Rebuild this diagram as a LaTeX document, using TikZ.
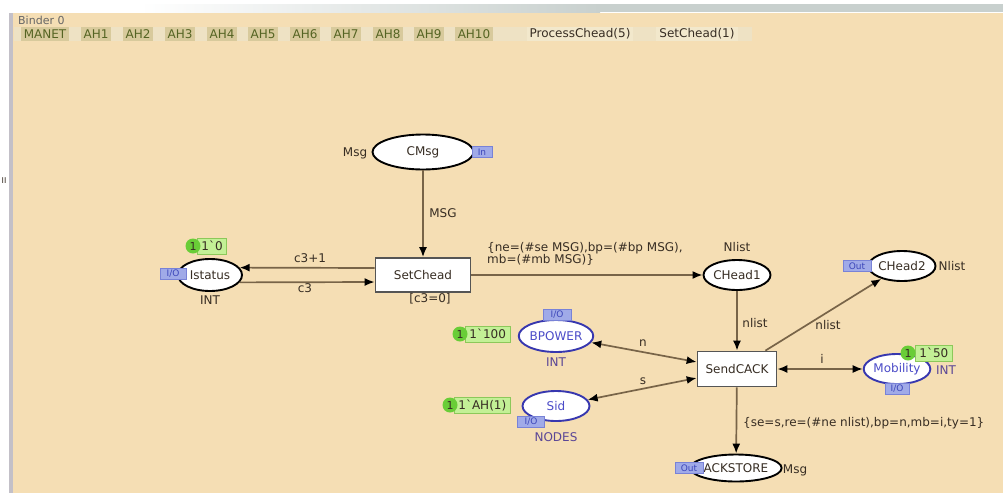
\documentclass[tikz,border=0pt]{standalone}
\usepackage{fontspec}
\setmainfont{DejaVu Sans}
\usetikzlibrary{shapes.geometric,arrows.meta}

\definecolor{canvas}{RGB}{245,222,180}
\definecolor{arccol}{RGB}{120,100,72}
\definecolor{txt}{RGB}{55,45,35}
\definecolor{blueplace}{RGB}{55,55,175}
\definecolor{bluetxt}{RGB}{75,75,200}
\definecolor{typetxt}{RGB}{90,70,150}
\definecolor{tagfill}{RGB}{160,170,232}
\definecolor{tagdraw}{RGB}{120,130,215}
\definecolor{tagtxt}{RGB}{60,70,185}
\definecolor{tokdotcol}{RGB}{105,205,55}
\definecolor{tokboxcol}{RGB}{195,240,150}
\definecolor{toklinecol}{RGB}{140,200,90}
\definecolor{tabbar}{RGB}{238,226,196}
\definecolor{tabfill}{RGB}{216,202,156}
\definecolor{tabtxt}{RGB}{85,100,35}
\definecolor{tabactive}{RGB}{242,232,204}
\definecolor{transline}{RGB}{85,85,85}
\definecolor{panelgray}{RGB}{195,192,200}
\definecolor{stripgray}{RGB}{200,208,206}

\tikzset{
  lbl/.style={font=\fontsize{12}{12}\selectfont, text=txt, inner sep=0pt},
  cpnplace/.style={ellipse, draw=black, line width=1.9pt, fill=white, inner sep=0pt,
                   font=\fontsize{12}{12}\selectfont, text=txt},
  cpnio/.style={cpnplace, draw=blueplace, text=bluetxt},
  cpntrans/.style={rectangle, draw=transline, line width=1.7pt, fill=white, inner sep=0pt,
                   font=\fontsize{12}{12}\selectfont, text=txt},
  flow/.style={draw=arccol, line width=1.7pt, -{Latex[length=10pt,width=8pt,color=black]}},
  biflow/.style={draw=arccol, line width=1.7pt,
                 {Latex[length=10pt,width=8pt,color=black]}-{Latex[length=10pt,width=8pt,color=black]}},
  porttag/.style={rectangle, fill=tagfill, draw=tagdraw, line width=0.6pt, inner xsep=2pt,
                  inner ysep=0pt, minimum height=11pt, minimum width=22pt,
                  font=\fontsize{9}{9}\selectfont, text=tagtxt},
  tokenbox/.style={rectangle, fill=tokboxcol, draw=toklinecol, line width=0.8pt, inner xsep=4pt,
                   inner ysep=0pt, minimum height=16pt, font=\fontsize{12}{12}\selectfont, text=txt},
  tokencircle/.style={circle, fill=tokdotcol, inner sep=0pt, minimum size=15pt,
                      font=\fontsize{11}{11}\selectfont, text=txt},
  tabitem/.style={rectangle, fill=tabfill, inner xsep=3pt, inner ysep=0pt, minimum height=14pt,
                  font=\fontsize{12}{12}\selectfont, text=tabtxt},
  tabopen/.style={tabitem, fill=tabactive, text=txt}
}

\begin{document}
\begin{tikzpicture}[x=1pt,y=-1pt]
  \useasboundingbox (0,0) rectangle (1003,493);

  % window background, title strip and left panel edge
  \fill[canvas] (0,0) rectangle (1003,493);
  \fill[white] (0,0) rectangle (1003,13);
  \fill[white] (0,0) rectangle (9,493);
  \shade[left color=white, right color=stripgray] (140,4) rectangle (600,12);
  \fill[stripgray] (600,4) rectangle (1003,12);
  \fill[panelgray] (9,13) rectangle (13,493);
  \node[font=\fontsize{8}{8}\selectfont, text=txt, inner sep=0pt] (sidemark) at (4,181) {II};

  % binder title and page tabs
  \node[lbl, anchor=west, text=black!60, font=\fontsize{11}{11}\selectfont] (binder) at (18,20) {Binder 0};
  \fill[tabbar] (14,27) rectangle (752,41);
  \node[tabitem] (tmanet) at (45,34) {MANET};
  \node[tabitem] (tah1) at (96,34) {AH1};
  \node[tabitem] (tah2) at (138,34) {AH2};
  \node[tabitem] (tah3) at (180,34) {AH3};
  \node[tabitem] (tah4) at (222,34) {AH4};
  \node[tabitem] (tah5) at (263,34) {AH5};
  \node[tabitem] (tah6) at (305,34) {AH6};
  \node[tabitem] (tah7) at (346,34) {AH7};
  \node[tabitem] (tah8) at (388,34) {AH8};
  \node[tabitem] (tah9) at (429,34) {AH9};
  \node[tabitem] (tah10) at (474,34) {AH10};
  \node[tabopen] (tproc) at (580,34) {ProcessChead(5)};
  \node[tabopen] (tset) at (697,34) {SetChead(1)};

  % places
  \node[cpnplace, minimum width=101pt, minimum height=35pt] (cmsg) at (423,152) {CMsg};
  \node[cpnplace, minimum width=64pt, minimum height=32pt] (istatus) at (210,275) {Istatus};
  \node[cpnplace, minimum width=65pt, minimum height=30pt] (chead1) at (737,275) {CHead1};
  \node[cpnplace, minimum width=62pt, minimum height=30pt] (chead2) at (902,266) {CHead2};
  \node[cpnio, minimum width=73pt, minimum height=32pt] (bpower) at (556,336) {BPOWER};
  \node[cpnio, minimum width=67pt, minimum height=30pt] (sid) at (556,406) {Sid};
  \node[cpnio, minimum width=66pt, minimum height=30pt] (mobility) at (897,369) {Mobility};
  \node[cpnplace, minimum width=85pt, minimum height=27pt] (ackstore) at (736,468) {ACKSTORE};

  % transitions
  \node[cpntrans, minimum width=95pt, minimum height=34pt] (setchead) at (423,275) {SetChead};
  \node[cpntrans, minimum width=79pt, minimum height=35pt] (sendcack) at (737,369) {SendCACK};

  % arcs
  \draw[flow] (cmsg) -- (setchead);
  \draw[flow] ([yshift=7pt]setchead.west) -- (istatus.14);
  \draw[flow] (istatus.-14) -- ([yshift=-7pt]setchead.west);
  \draw[flow] (setchead) -- (chead1);
  \draw[flow] (chead1) -- (sendcack);
  \draw[flow] ([xshift=-12pt]sendcack.north east) -- (chead2);
  \draw[biflow] (bpower) -- ([yshift=7pt]sendcack.west);
  \draw[biflow] (sid) -- ([yshift=-9pt]sendcack.west);
  \draw[biflow] (sendcack) -- (mobility);
  \draw[flow] (sendcack) -- (ackstore);

  % arc inscriptions and guard
  \node[lbl] (lmsg) at (443,213) {MSG};
  \node[lbl] (lc3p) at (310,258) {c3+1};
  \node[lbl] (lc3) at (305,288) {c3};
  \node[lbl] (guard) at (430,299) {[c3=0]};
  \node[lbl, anchor=north west, align=left] (lrecord) at (487,242)
    {\{ne=(\#se MSG),bp=(\#bp MSG),\\mb=(\#mb MSG)\}};
  \node[lbl] (lnlist1) at (755,323) {nlist};
  \node[lbl] (lnlist2) at (828,325) {nlist};
  \node[lbl] (li) at (822,359) {i};
  \node[lbl] (ln) at (643,343) {n};
  \node[lbl] (ls) at (643,381) {s};
  \node[lbl, anchor=west] (lack) at (743,423) {\{se=s,re=(\#ne nlist),bp=n,mb=i,ty=1\}};

  % colour sets
  \node[lbl] (tcmsg) at (355,153) {Msg};
  \node[lbl] (tistatus) at (210,300) {INT};
  \node[lbl] (tchead1) at (737,247) {Nlist};
  \node[lbl] (tchead2) at (952,266) {Nlist};
  \node[lbl, text=typetxt] (tbpower) at (556,362) {INT};
  \node[lbl, text=typetxt] (tsid) at (556,437) {NODES};
  \node[lbl, text=typetxt] (tmobility) at (946,370) {INT};
  \node[lbl] (tackstore) at (795,470) {Msg};

  % port tags
  \node[porttag, minimum width=20pt] (pcmsg) at (482,152) {In};
  \node[porttag, minimum width=26pt] (pistatus) at (173,274) {I/O};
  \node[porttag, minimum width=28pt] (pchead2) at (857,266) {Out};
  \node[porttag, minimum width=28pt] (pbpower) at (557,315) {I/O};
  \node[porttag, minimum width=27pt] (psid) at (531,422) {I/O};
  \node[porttag, minimum width=24pt] (pmobility) at (897,389) {I/O};
  \node[porttag, minimum width=28pt] (packstore) at (689,468) {Out};

  % initial markings
  \node[tokenbox, anchor=west] (mistatus) at (197,246) {1\textasciigrave 0};
  \node[tokencircle] (cistatus) at (193,246) {1};
  \node[tokenbox, anchor=west] (mbpower) at (465,334) {1\textasciigrave 100};
  \node[tokencircle] (cbpower) at (460,334) {1};
  \node[tokenbox, anchor=west] (msid) at (454,405) {1\textasciigrave AH(1)};
  \node[tokencircle] (csid) at (450,405) {1};
  \node[tokenbox, anchor=west] (mmobility) at (915,353) {1\textasciigrave 50};
  \node[tokencircle] (cmobility) at (908,353) {1};
\end{tikzpicture}
\end{document}
